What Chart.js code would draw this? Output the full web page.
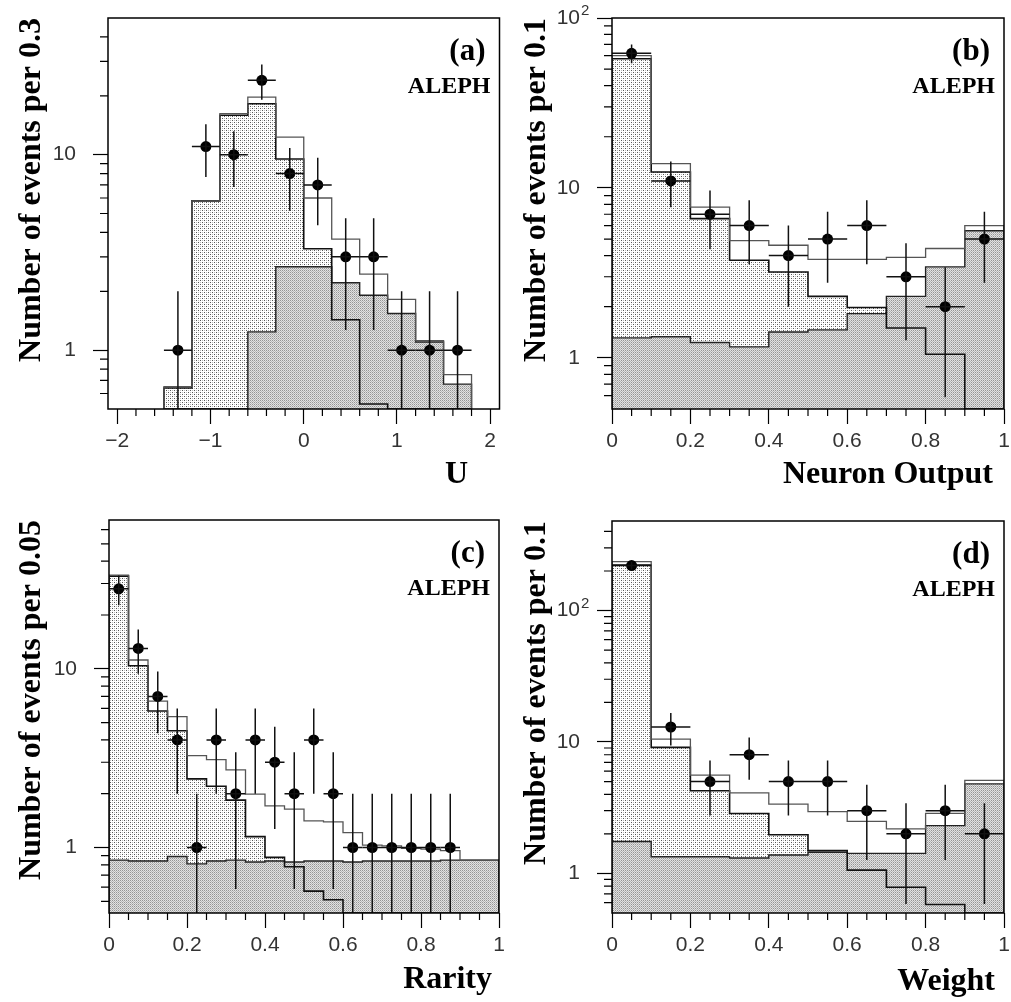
<!DOCTYPE html>
<html lang="en">
<head>
<meta charset="UTF-8" />
<title>ALEPH distributions</title>
<script src="https://cdn.jsdelivr.net/npm/chart.js"></script>
<style>
  body { margin: 0; background: #fff; }
  #wrap { position: relative; width: 1011px; height: 1002px; }
  canvas { position: absolute; }
</style>
</head>
<body>
<div id="wrap">
  <canvas id="cA" width="505" height="500" style="left:0;top:0"></canvas>
  <canvas id="cB" width="506" height="500" style="left:505px;top:0"></canvas>
  <canvas id="cC" width="505" height="502" style="left:0;top:500px"></canvas>
  <canvas id="cD" width="506" height="502" style="left:505px;top:500px"></canvas>
</div>
<script>
// ---- (a) U ----
const edgesA = [-1.5, -1.2, -0.9, -0.6, -0.3, 0, 0.3, 0.6, 0.9, 1.2, 1.5, 1.8];
const dataA  = [1, 11, 10, 24, 8, 7, 3, 3, 1, 1, 1];
const totalA = [0.65, 5.8, 16.2, 19.7, 12.3, 6.0, 3.7, 2.45, 1.82, 1.12, 0.75];
const lightA = [0.64, 5.8, 15.9, 18.2, 9.5, 3.3, 1.43, 0.53, 0, 0, 0];
const darkA  = [0, 0, 0, 1.24, 2.67, 2.67, 2.21, 1.91, 1.54, 1.10, 0.67];

// ---- (b) Neuron Output ----
const edgesB = [0, 0.1, 0.2, 0.3, 0.4, 0.5, 0.6, 0.7, 0.8, 0.9, 1.0];
const dataB  = [62, 11, 7, 6, 4, 5, 6, 3, 2, 5];
const totalB = [60, 13.9, 7.7, 4.9, 4.6, 3.8, 3.8, 3.9, 4.4, 6.0];
const lightB = [57.6, 12.4, 6.6, 3.75, 3.2, 2.3, 1.98, 1.5, 1.05, 0];
const darkB  = [1.31, 1.33, 1.23, 1.16, 1.42, 1.46, 1.82, 2.30, 3.43, 5.6];

// ---- (c) Rarity ----
const edgesC = [0, 0.05, 0.1, 0.15, 0.2, 0.25, 0.3, 0.35, 0.4, 0.45, 0.5,
                0.55, 0.6, 0.65, 0.7, 0.75, 0.8, 0.85, 0.9, 0.95, 1.0];
const dataC  = [28, 13, 7, 4, 1, 4, 2, 4, 3, 2, 4, 2, 1, 1, 1, 1, 1, 1, null, null];
const totalC = [33.4, 11.2, 6.6, 5.4, 3.27, 3.1, 2.72, 1.99, 1.71, 1.64,
                1.41, 1.39, 1.21, 1.03, 1.02, 0.99, 0.98, 0.96, 0.85, 0.85];
const lightC = [33, 10.4, 5.8, 4.5, 2.42, 2.2, 1.84, 1.15, 0.88, 0.78,
                0.57, 0.51, 0, 0, 0, 0, 0, 0, 0, 0];
const darkC  = [0.85, 0.84, 0.84, 0.89, 0.81, 0.84, 0.85, 0.83, 0.84, 0.83,
                0.84, 0.84, 0.83, 0.84, 0.84, 0.84, 0.84, 0.85, 0.85, 0.85];

// ---- (d) Weight ----
const edgesD = [0, 0.1, 0.2, 0.3, 0.4, 0.5, 0.6, 0.7, 0.8, 0.9, 1.0];
const dataD  = [220, 13, 5, 8, 5, 5, 3, 2, 3, 2];
const totalD = [236, 10.5, 5.6, 4.1, 3.37, 2.95, 2.49, 2.18, 2.86, 5.1];
const lightD = [222, 9.1, 4.26, 2.86, 1.97, 1.49, 1.06, 0.785, 0.58, 0];
const darkD  = [1.75, 1.34, 1.34, 1.31, 1.38, 1.45, 1.42, 1.42, 2.31, 4.8];

// axis ticks
const xTicksA = [-2, -1, 0, 1, 2];
const xTextA  = ['\u22122', '\u22121', '0', '1', '2'];
const xTicksU = [0, 0.2, 0.4, 0.6, 0.8, 1];
const xTextU  = ['0', '0.2', '0.4', '0.6', '0.8', '1'];
const yTicks2 = [1, 10];
const yText2  = ['1', '10'];
const yExp2   = ['', ''];
const yTicks3 = [1, 10, 100];
const yText3  = ['1', '10', '10'];
const yExp3   = ['', '', '2'];

function makePattern(size, dots, bg) {
  const c = document.createElement('canvas');
  c.width = c.height = size;
  const g = c.getContext('2d');
  g.fillStyle = bg;
  g.fillRect(0, 0, size, size);
  dots.forEach(([x, y, col]) => { g.fillStyle = col; g.fillRect(x, y, 1, 1); });
  return g.createPattern(c, 'repeat');
}
const lightFill = makePattern(4, [[0, 0, '#555'], [2, 2, '#555'], [2, 0, '#bbb'], [0, 2, '#bbb']], '#fff');
const darkFill = makePattern(2, [[0, 0, '#959595'], [1, 1, '#b8b8b8']], '#e2e2e2');

// histogram outline: one point per bin edge, closed down to the axis floor
function stepPoints(edges, vals, base) {
  const pts = [{ x: edges[0], y: base }];
  vals.forEach((v, i) => pts.push({ x: edges[i], y: v > 0 ? v : base }));
  pts.push({ x: edges[edges.length - 1], y: base });
  return pts;
}

function makePanel(id, p) {
  const centers = p.edges.slice(0, -1).map((e, i) => (e + p.edges[i + 1]) / 2);
  const points = [];
  p.data.forEach((v, i) => { if (v != null) points.push({ x: centers[i], y: v }); });
  const base = p.yMin;

  const decor = {
    id: 'decor',
    afterDatasetsDraw(chart) {
      const { ctx, chartArea: a, scales: { x, y } } = chart;
      // error bars (Poisson, sqrt N)
      ctx.save();
      ctx.beginPath();
      ctx.rect(a.left, a.top, a.right - a.left, a.bottom - a.top);
      ctx.clip();
      ctx.strokeStyle = '#111';
      ctx.lineWidth = 1.5;
      p.data.forEach((v, i) => {
        if (v == null) return;
        const err = Math.sqrt(v);
        const px = x.getPixelForValue(centers[i]);
        const py = y.getPixelForValue(v);
        const lo = v - err > 0 ? y.getPixelForValue(v - err) : a.bottom;
        const hi = y.getPixelForValue(v + err);
        ctx.beginPath();
        ctx.moveTo(px, lo); ctx.lineTo(px, hi);
        ctx.moveTo(x.getPixelForValue(p.edges[i]), py);
        ctx.lineTo(x.getPixelForValue(p.edges[i + 1]), py);
        ctx.stroke();
      });
      ctx.restore();
    },
    afterDraw(chart) {
      const { ctx, chartArea: a, scales: { x, y } } = chart;
      ctx.save();
      ctx.strokeStyle = '#000';
      ctx.lineWidth = 1.5;
      ctx.strokeRect(a.left, a.top, a.right - a.left, a.bottom - a.top);
      // minor ticks
      ctx.lineWidth = 1.2;
      ctx.beginPath();
      const st = p.xMinor;
      for (let k = Math.ceil(p.xMin / st - 1e-6); k * st <= p.xMax + 1e-9; k++) {
        const v = k * st;
        if (p.xTicks.some(t => Math.abs(t - v) < 1e-6)) continue;
        const px = x.getPixelForValue(v);
        ctx.moveTo(px, a.bottom); ctx.lineTo(px, a.bottom + 7);
      }
      [0.1, 1, 10, 100].forEach(d => {
        for (let k = 2; k <= 9; k++) {
          const v = k * d;
          if (v <= p.yMin || v >= p.yMax) continue;
          const py = y.getPixelForValue(v);
          ctx.moveTo(a.left - 8, py); ctx.lineTo(a.left, py);
        }
      });
      ctx.stroke();
      // superscripts on the decade labels
      ctx.fillStyle = '#333';
      ctx.font = '15px "Liberation Sans"';
      ctx.textAlign = 'left';
      ctx.textBaseline = 'alphabetic';
      p.yTicks.forEach((v, i) => {
        if (p.yExp[i]) ctx.fillText(p.yExp[i], a.left - 31, y.getPixelForValue(v) - 3);
      });
      // panel tag, experiment and x title
      ctx.fillStyle = '#000';
      ctx.textAlign = 'right';
      ctx.font = 'bold 31px "Liberation Serif"';
      ctx.fillText(p.tag, a.right - 14, a.top + 42);
      ctx.font = 'bold 24px "Liberation Serif"';
      ctx.fillText('ALEPH', a.right - 9, a.top + 75);
      ctx.font = 'bold 32px "Liberation Serif"';
      ctx.fillText(p.xTitle, p.xTitleX, p.xTitleY);
      ctx.restore();
    }
  };

  return new Chart(document.getElementById(id), {
    type: 'line',
    data: {
      datasets: [
        { data: points, showLine: false, pointRadius: 5.5, pointBackgroundColor: '#000',
          pointBorderColor: '#000', pointBorderWidth: 0 },
        { data: stepPoints(p.edges, p.total, base), stepped: true, fill: false,
          borderColor: '#555', borderWidth: 1.3, pointRadius: 0 },
        { data: stepPoints(p.edges, p.light, base), stepped: true, fill: false,
          borderColor: '#111', borderWidth: 1.6, pointRadius: 0 },
        { data: stepPoints(p.edges, p.dark, base), stepped: true, fill: 'start',
          backgroundColor: darkFill, borderColor: '#222', borderWidth: 1.4, pointRadius: 0 },
        { data: stepPoints(p.edges, p.light, base), stepped: true, fill: 'start',
          backgroundColor: lightFill, borderWidth: 0, borderColor: 'rgba(0,0,0,0)', pointRadius: 0 }
      ]
    },
    options: {
      responsive: false,
      animation: false,
      devicePixelRatio: 1,
      events: [],
      layout: { padding: { left: 0, top: p.padTop, right: p.padRight, bottom: 0 } },
      plugins: { legend: { display: false }, tooltip: { enabled: false } },
      scales: {
        x: {
          type: 'linear', min: p.xMin, max: p.xMax,
          afterBuildTicks: s => { s.ticks = p.xTicks.map(v => ({ value: v })); },
          afterFit: s => { s.height = p.xAxisH; s.paddingLeft = 0; s.paddingRight = 0; },
          ticks: {
            autoSkip: false, maxRotation: 0, padding: 5, color: '#333',
            font: { family: 'Liberation Sans', size: 21 },
            callback: (v, i) => p.xText[i]
          },
          grid: { drawOnChartArea: false, tickLength: 15, tickColor: '#000', tickWidth: 1.2 },
          border: { display: false }
        },
        y: {
          type: 'logarithmic', min: p.yMin, max: p.yMax,
          afterBuildTicks: s => { s.ticks = p.yTicks.map(v => ({ value: v })); },
          afterFit: s => { s.width = p.yAxisW; s.paddingTop = 0; s.paddingBottom = 0; },
          ticks: {
            autoSkip: false, padding: 17, color: '#333',
            font: { family: 'Liberation Sans', size: 21 },
            callback: (v, i) => p.yText[i]
          },
          grid: { drawOnChartArea: false, tickLength: 15, tickColor: '#000', tickWidth: 1.2 },
          border: { display: false },
          title: {
            display: true, text: p.yTitle, align: 'end', color: '#000',
            font: { family: 'Liberation Serif', weight: 'bold', size: 32 },
            padding: { top: 13, bottom: 0 }
          }
        }
      }
    },
    plugins: [decor]
  });
}

makePanel('cA', {
  edges: edgesA, data: dataA, total: totalA, light: lightA, dark: darkA,
  xMin: -2.1, xMax: 2.1, yMin: 0.5, yMax: 50, xMinor: 0.2,
  xTicks: xTicksA, xText: xTextA, yTicks: yTicks2, yText: yText2, yExp: yExp2,
  yTitle: 'Number of events per 0.3', xTitle: 'U', xTitleX: 468, xTitleY: 483, tag: '(a)',
  yAxisW: 108, xAxisH: 91, padTop: 18, padRight: 5
});
makePanel('cB', {
  edges: edgesB, data: dataB, total: totalB, light: lightB, dark: darkB,
  xMin: 0, xMax: 1, yMin: 0.5, yMax: 100, xMinor: 0.05,
  xTicks: xTicksU, xText: xTextU, yTicks: yTicks3, yText: yText3, yExp: yExp3,
  yTitle: 'Number of events per 0.1', xTitle: 'Neuron Output', xTitleX: 488, xTitleY: 483, tag: '(b)',
  yAxisW: 107, xAxisH: 91, padTop: 18, padRight: 7
});
makePanel('cC', {
  edges: edgesC, data: dataC, total: totalC, light: lightC, dark: darkC,
  xMin: 0, xMax: 1, yMin: 0.43, yMax: 68, xMinor: 0.05,
  xTicks: xTicksU, xText: xTextU, yTicks: yTicks2, yText: yText2, yExp: yExp2,
  yTitle: 'Number of events per 0.05', xTitle: 'Rarity', xTitleX: 492, xTitleY: 488, tag: '(c)',
  yAxisW: 109, xAxisH: 89, padTop: 20, padRight: 6
});
makePanel('cD', {
  edges: edgesD, data: dataD, total: totalD, light: lightD, dark: darkD,
  xMin: 0, xMax: 1, yMin: 0.5, yMax: 480, xMinor: 0.05,
  xTicks: xTicksU, xText: xTextU, yTicks: yTicks3, yText: yText3, yExp: yExp3,
  yTitle: 'Number of events per 0.1', xTitle: 'Weight', xTitleX: 490, xTitleY: 490, tag: '(d)',
  yAxisW: 107, xAxisH: 89, padTop: 21, padRight: 7
});
</script>
</body>
</html>
